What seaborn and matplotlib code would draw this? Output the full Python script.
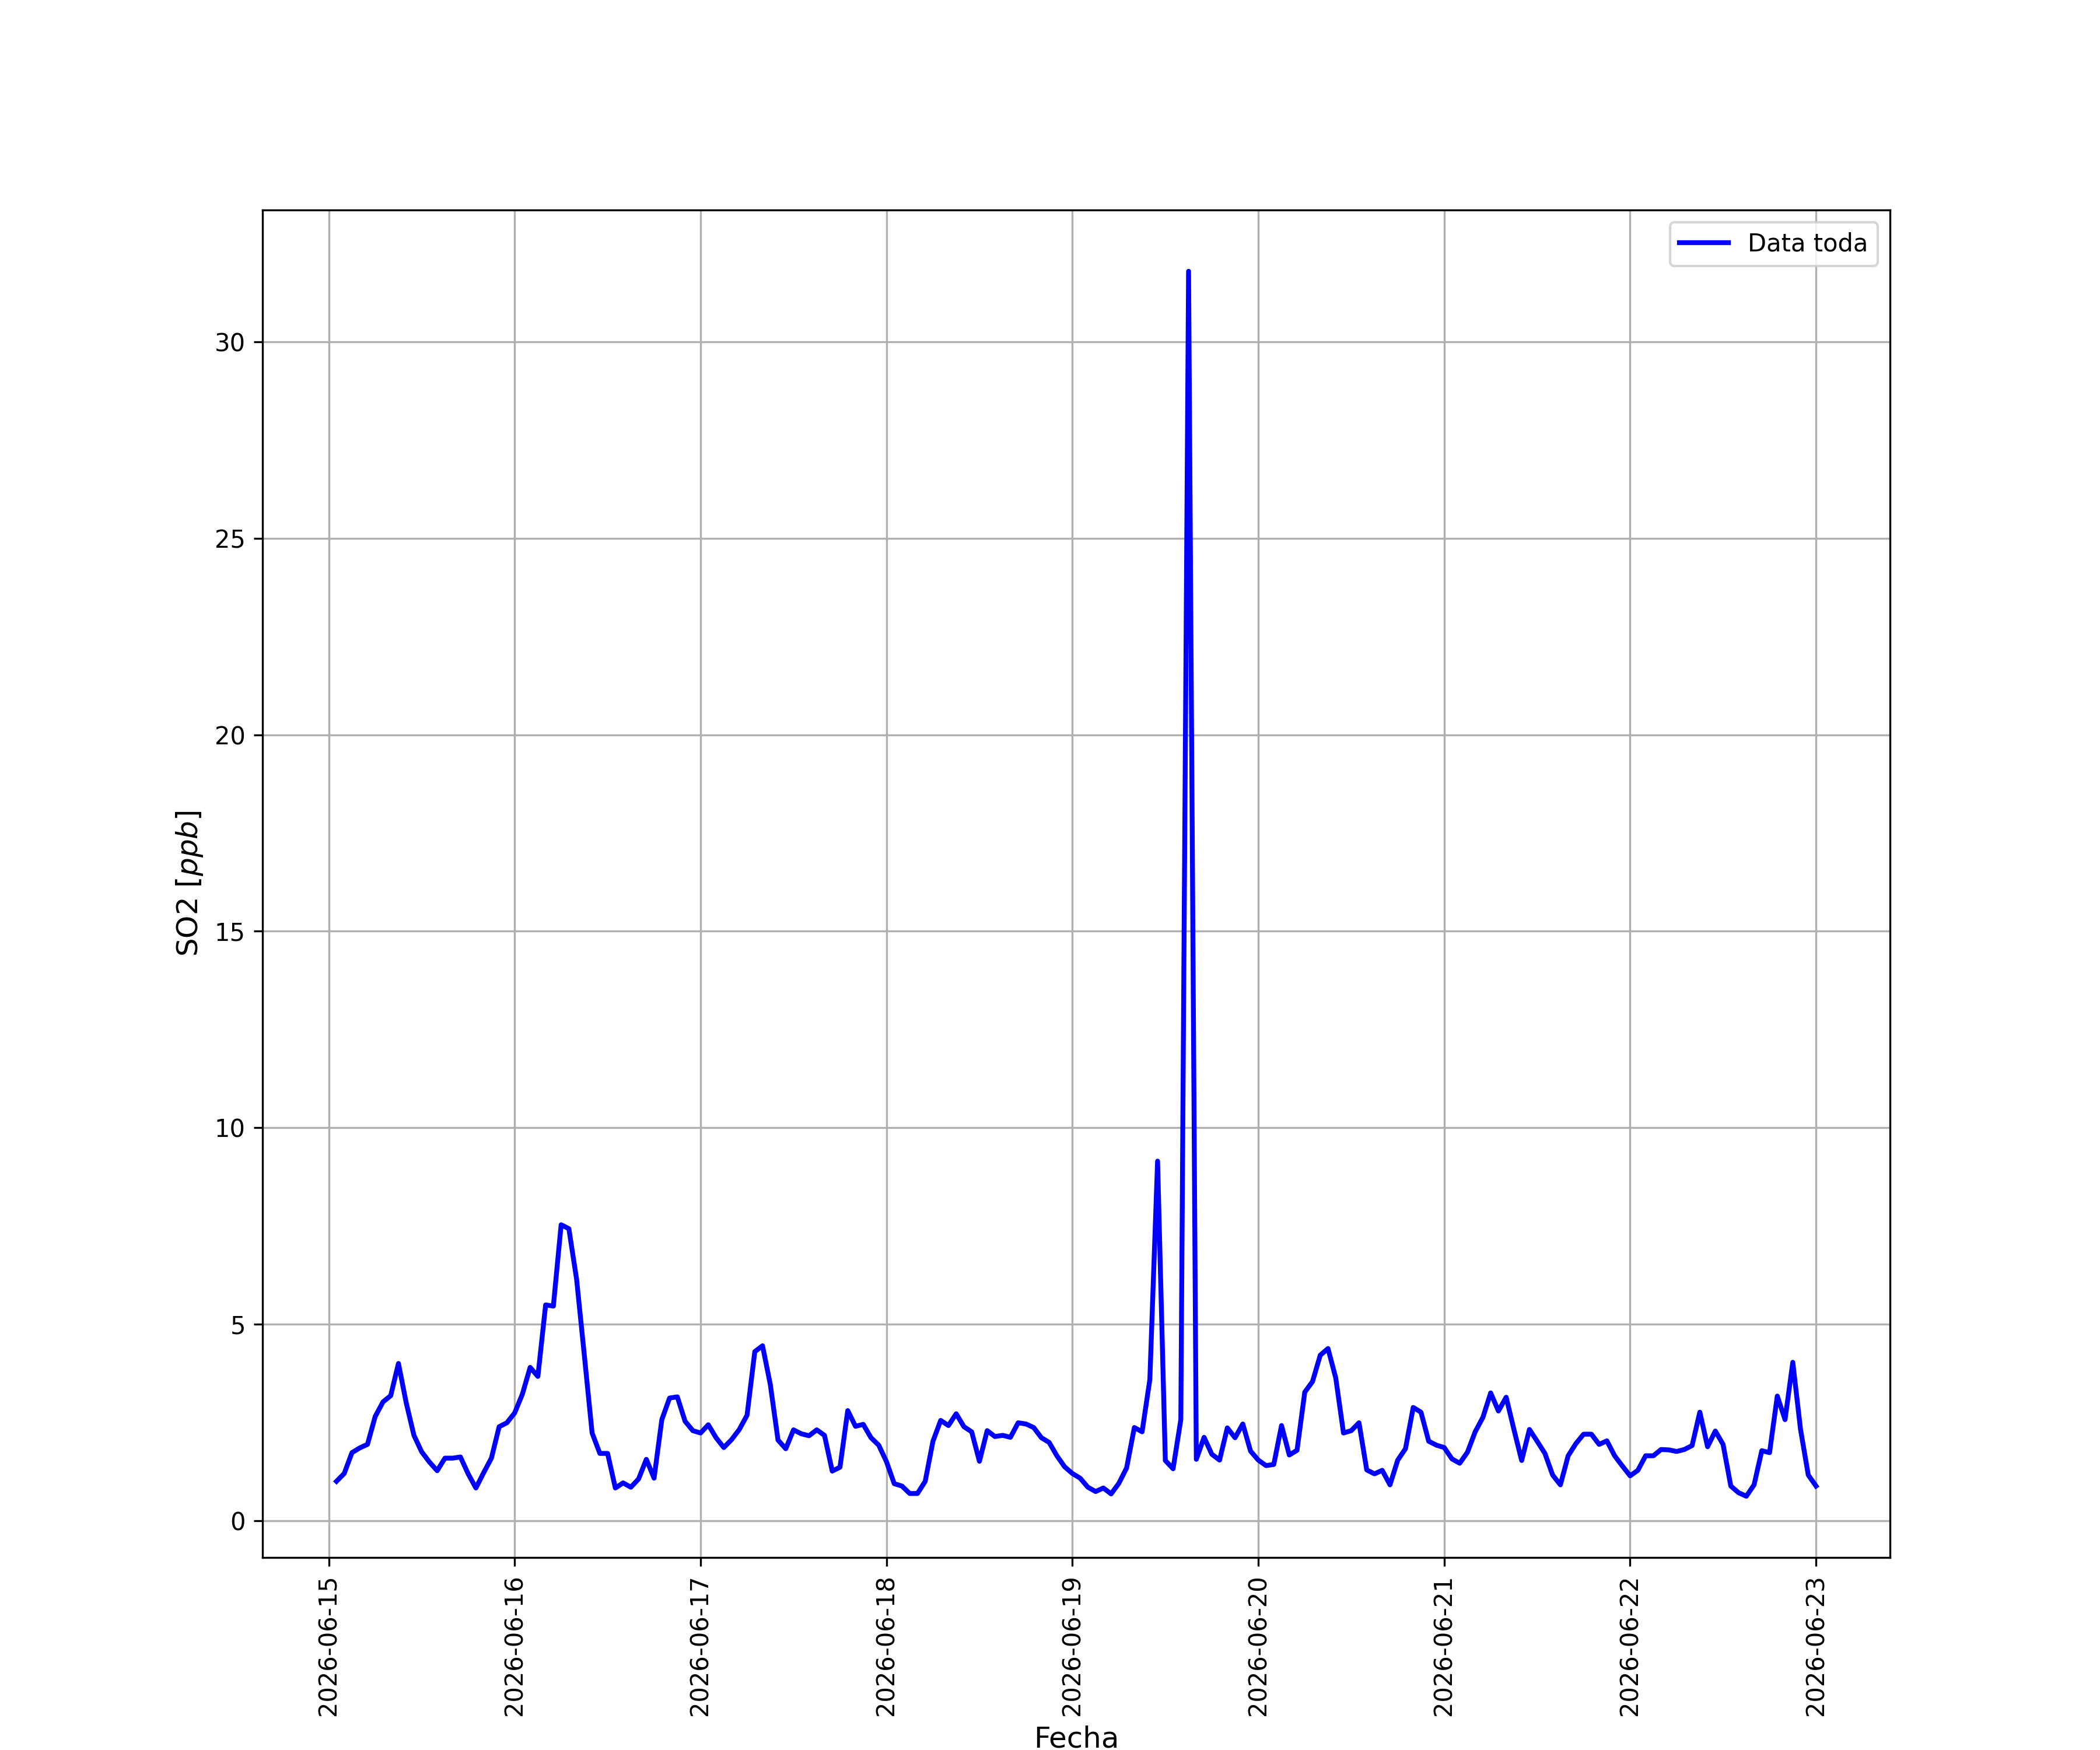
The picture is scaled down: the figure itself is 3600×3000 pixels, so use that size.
import pandas as pd
import matplotlib
matplotlib.use("Agg")
import matplotlib.pyplot as plt
import matplotlib.dates as mdates
import seaborn as sns

# hourly SO2 values, one list per day (01:00 .. 24:00)
so2_jun15 = [1.0, 1.2, 1.73, 1.85, 1.94, 2.65, 3.02, 3.18, 4.0, 3.0, 2.17, 1.75,
             1.49, 1.27, 1.59, 1.59, 1.62, 1.19, 0.83, 1.22, 1.59, 2.39, 2.49, 2.74]
so2_jun16 = [3.22, 3.9, 3.67, 5.49, 5.46, 7.53, 7.43, 6.14, 4.2, 2.23, 1.71, 1.71,
             0.83, 0.96, 0.85, 1.06, 1.56, 1.08, 2.57, 3.12, 3.15, 2.53, 2.29, 2.23]
so2_jun17 = [2.44, 2.11, 1.86, 2.06, 2.32, 2.68, 4.3, 4.45, 3.47, 2.05, 1.83, 2.31,
             2.21, 2.16, 2.31, 2.17, 1.26, 1.36, 2.8, 2.4, 2.45, 2.11, 1.92, 1.5]
so2_jun18 = [0.94, 0.88, 0.69, 0.69, 1.0, 2.02, 2.55, 2.42, 2.72, 2.39, 2.26, 1.51,
             2.29, 2.14, 2.17, 2.12, 2.49, 2.46, 2.37, 2.11, 1.99, 1.65, 1.37, 1.2]
so2_jun19 = [1.08, 0.85, 0.74, 0.83, 0.68, 0.95, 1.34, 2.37, 2.26, 3.59, 9.15, 1.53,
             1.32, 2.57, 31.8, 1.56, 2.12, 1.69, 1.54, 2.36, 2.11, 2.46, 1.77, 1.54]
so2_jun20 = [1.4, 1.43, 2.42, 1.67, 1.79, 3.27, 3.54, 4.21, 4.38, 3.63, 2.23, 2.29,
             2.49, 1.29, 1.19, 1.28, 0.91, 1.54, 1.83, 2.88, 2.76, 2.02, 1.92, 1.86]
so2_jun21 = [1.57, 1.46, 1.74, 2.26, 2.63, 3.25, 2.79, 3.14, 2.32, 1.53, 2.32, 2.02,
             1.71, 1.16, 0.91, 1.65, 1.96, 2.2, 2.2, 1.94, 2.03, 1.65, 1.39, 1.14]
so2_jun22 = [1.28, 1.65, 1.65, 1.81, 1.8, 1.76, 1.81, 1.91, 2.76, 1.88, 2.28, 1.94,
             0.88, 0.71, 0.62, 0.91, 1.78, 1.73, 3.17, 2.57, 4.03, 2.32, 1.16, 0.88]

START = "2026-06-15 01:00"
LABEL = "Data toda"

values = (so2_jun15 + so2_jun16 + so2_jun17 + so2_jun18 +
          so2_jun19 + so2_jun20 + so2_jun21 + so2_jun22)
df = pd.DataFrame({
    "Fecha": pd.date_range(START, periods=len(values), freq="h"),
    "SO2": values,
})

fig, ax = plt.subplots(figsize=(12, 10), dpi=300)

sns.lineplot(data=df, x="Fecha", y="SO2", ax=ax, color="blue", linewidth=2, label=LABEL)

ax.xaxis.set_major_locator(mdates.DayLocator())
ax.xaxis.set_major_formatter(mdates.DateFormatter("%Y-%m-%d"))
plt.setp(ax.get_xticklabels(), rotation=90)

ax.set_xlabel("Fecha", fontsize=12)
ax.set_ylabel("SO2 [$ppb$]", fontsize=12)
ax.grid(True)
ax.legend(loc="upper right", fontsize=10)

plt.savefig("out.png", dpi=300)
plt.close()
